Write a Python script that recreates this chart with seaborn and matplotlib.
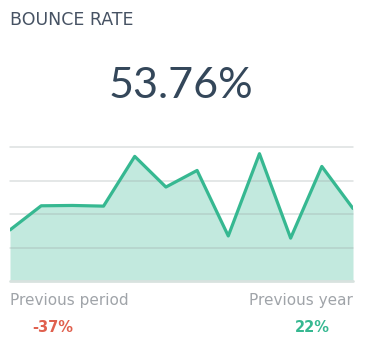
import matplotlib
matplotlib.use("Agg")
import matplotlib.pyplot as plt
import seaborn as sns
import numpy as np
import pandas as pd

# Data
periods = list(range(12))
bounce = [30.5, 44.9, 45.1, 44.7, 74.4, 56.1, 66.0, 26.9, 76.0, 25.6, 68.4, 43.3]
title = "BOUNCE RATE"
headline = "53.76%"
prev_labels = ["Previous period", "Previous year"]
prev_values = ["-37%", "22%"]

df = pd.DataFrame({"period": periods, "bounce": bounce})

sns.set_theme(style="white")
plt.rcParams['font.family'] = ['DejaVu Sans']

fig = plt.figure(figsize=(3.65, 3.46), dpi=100)
ax = fig.add_axes([10/365, 65/346, 343/365, 134/346])

line_c = "#36b891"
fill_c = "#c2e9de"

ax.fill_between(df["period"], df["bounce"], 0, color=fill_c, lw=0, zorder=1)
for g in [20, 40, 60, 80]:
    ax.axhline(g, color="#9aa5a5", alpha=0.35, lw=1.1, zorder=2, clip_on=False)
ax.axhline(0, color="#d8e2df", lw=2, zorder=2, clip_on=False)
sns.lineplot(data=df, x="period", y="bounce", ax=ax, color=line_c, lw=2.3, zorder=3)

ax.set_xlim(0, 11)
ax.set_ylim(0, 80)
ax.set_xticks([]); ax.set_yticks([])
ax.set_xlabel(""); ax.set_ylabel("")
for s in ax.spines.values():
    s.set_visible(False)
ax.patch.set_alpha(0)

fig.text(10/365, 1 - 20/346, title, fontsize=12.5, color="#465263", va="center", ha="left", family="DejaVu Sans")
fig.text(181/365, 1 - 86/346, headline, fontsize=31, color="#34475a", va="center", ha="center", family="Lato")
fig.text(10/365, 1 - 300/346, prev_labels[0], fontsize=11, color="#a0a4a9", va="center", ha="left")
fig.text(353/365, 1 - 300/346, prev_labels[1], fontsize=11, color="#a0a4a9", va="center", ha="right")
fig.text(53/365, 1 - 327/346, prev_values[0], fontsize=10.5, color="#e0604e", va="center", ha="center", fontweight="bold")
fig.text(312/365, 1 - 327/346, prev_values[1], fontsize=10.5, color="#36b891", va="center", ha="center", fontweight="bold")

fig.savefig("out.png", dpi=100)
